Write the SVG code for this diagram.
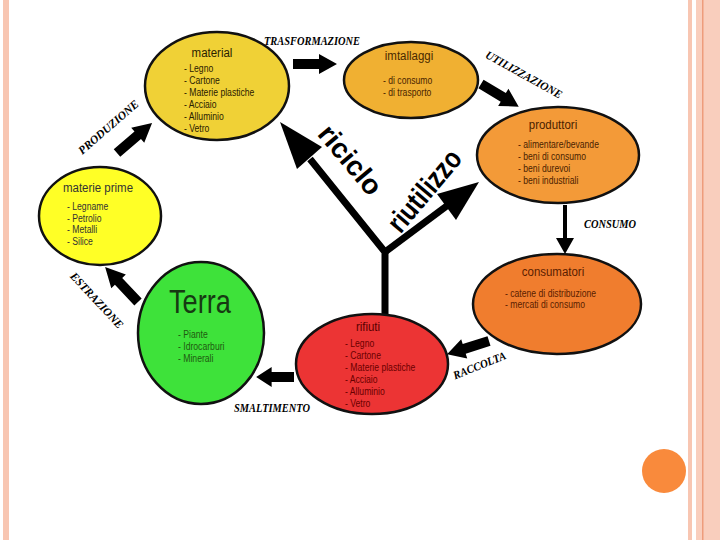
<svg xmlns="http://www.w3.org/2000/svg" xmlns:xlink="http://www.w3.org/1999/xlink" width="720" height="540" viewBox="0 0 720 540">
<style>
.node ellipse{stroke:#111;stroke-width:2.5}
.tt{font-family:"Liberation Sans",Arial,sans-serif;font-size:13.5px;text-anchor:middle}
.it{font-family:"Liberation Sans",Arial,sans-serif;font-size:11.5px}
.lbl{font-family:"Liberation Serif","Times New Roman",serif;font-weight:bold;font-style:italic;font-size:11.5px;fill:#000}
.big{font-family:"Liberation Sans",Arial,sans-serif;font-weight:bold;fill:#000}
.ba{fill:#000}
</style>
<defs>
<path id="barrow" d="M0,-5 L26,-5 L26,-10 L44,0 L26,10 L26,5 L0,5 Z"/>
</defs>
<rect width="720" height="540" fill="#fff"/>
<g id="page-decor">
<rect x="3" y="0" width="6" height="540" fill="#f8c6b2"/>
<rect x="688" y="0" width="4" height="540" fill="#f8c6b2"/>
<rect x="696" y="0" width="24" height="540" fill="#f9cebd"/>
<rect x="702" y="0" width="1.5" height="540" fill="#ee9c7c"/>
<circle cx="664" cy="471" r="22" fill="#f98a3c"/>
</g>
<g id="connectors">
<use href="#barrow" class="ba" transform="translate(293,64)"/>
<use href="#barrow" class="ba" transform="translate(481,84) rotate(31)"/>
<path class="ba" d="M563,205 L567,205 L567,238 L574,238 L565,254 L556,238 L563,238 Z"/>
<use href="#barrow" class="ba" transform="translate(489,341) rotate(162.4)"/>
<use href="#barrow" class="ba" transform="translate(294,377) rotate(180) scale(0.86,1)"/>
<use href="#barrow" class="ba" transform="translate(138,302) rotate(-133.3) scale(1.09,1)"/>
<use href="#barrow" class="ba" transform="translate(117,153) rotate(-40.6) scale(1.05,1)"/>
<g stroke="#000" stroke-width="7" fill="none" stroke-linejoin="miter">
<polyline points="385,318 385,252 310,159"/>
<line x1="385" y1="252" x2="448" y2="205"/>
</g>
<polygon class="ba" points="280,122 322,147 297,169"/>
<polygon class="ba" points="479,182 456,220 437,194"/>
<text class="lbl" x="312" y="45" text-anchor="middle" textLength="96" lengthAdjust="spacingAndGlyphs">TRASFORMAZIONE</text>
<text class="lbl" text-anchor="middle" transform="translate(522,78) rotate(29)" textLength="86" lengthAdjust="spacingAndGlyphs">UTILIZZAZIONE</text>
<text class="lbl" x="610" y="228" text-anchor="middle" textLength="52" lengthAdjust="spacingAndGlyphs">CONSUMO</text>
<text class="lbl" text-anchor="middle" transform="translate(481,369) rotate(-22)" textLength="56" lengthAdjust="spacingAndGlyphs">RACCOLTA</text>
<text class="lbl" x="272" y="412" text-anchor="middle" textLength="76" lengthAdjust="spacingAndGlyphs">SMALTIMENTO</text>
<text class="lbl" text-anchor="middle" transform="translate(94,303) rotate(47)" textLength="72" lengthAdjust="spacingAndGlyphs">ESTRAZIONE</text>
<text class="lbl" text-anchor="middle" transform="translate(111,130) rotate(-41)" textLength="76" lengthAdjust="spacingAndGlyphs">PRODUZIONE</text>
<text class="big" font-size="28" text-anchor="middle" transform="translate(343,166) rotate(50)">riciclo</text>
<text class="big" font-size="29" text-anchor="middle" transform="translate(432,197) rotate(-50)" textLength="98" lengthAdjust="spacingAndGlyphs">riutilizzo</text>
</g>
<g id="materiali" class="node">
<ellipse cx="217" cy="86" rx="72" ry="54" fill="#f0d136"/>
<text class="tt" x="212" y="57" fill="#2a2200" transform="matrix(0.85,0,0,1,31.8,0)">material</text>
<g class="it" fill="#2a2000" transform="matrix(0.75,0,0,1,46,0)">
<text x="184" y="72">- Legno</text>
<text x="184" y="84">- Cartone</text>
<text x="184" y="96">- Materie plastiche</text>
<text x="184" y="108">- Acciaio</text>
<text x="184" y="120">- Alluminio</text>
<text x="184" y="132">- Vetro</text>
</g>
</g>
<g id="imballaggi" class="node">
<ellipse cx="411" cy="80" rx="67" ry="38" fill="#f0b032"/>
<text class="tt" x="409" y="60" fill="#4a2a00" transform="matrix(0.85,0,0,1,61.35,0)">imtallaggi</text>
<g class="it" fill="#4a2400" transform="matrix(0.75,0,0,1,95.75,0)">
<text x="383" y="84">- di consumo</text>
<text x="383" y="96">- di trasporto</text>
</g>
</g>
<g id="produttori" class="node">
<ellipse cx="558" cy="155" rx="81" ry="48" fill="#f39a38"/>
<text class="tt" x="553" y="129" fill="#4a1e00" transform="matrix(0.85,0,0,1,82.95,0)">produttori</text>
<g class="it" fill="#4a1e00" transform="matrix(0.75,0,0,1,129.5,0)">
<text x="518" y="148">- alimentare/bevande</text>
<text x="518" y="160">- beni di consumo</text>
<text x="518" y="172">- beni durevoi</text>
<text x="518" y="184">- beni industriali</text>
</g>
</g>
<g id="consumatori" class="node">
<ellipse cx="557" cy="304" rx="84" ry="50" fill="#f07d2e"/>
<text class="tt" x="553" y="276" fill="#5a2000" transform="matrix(0.85,0,0,1,82.95,0)">consumatori</text>
<g class="it" fill="#5a1e00" transform="matrix(0.75,0,0,1,126.25,0)">
<text x="505" y="297">- catene di distribuzione</text>
<text x="505" y="308">- mercati di consumo</text>
</g>
</g>
<g id="rifiuti" class="node">
<ellipse cx="372" cy="364" rx="76" ry="50" fill="#ec3434"/>
<text class="tt" x="368" y="331" fill="#5a0000" transform="matrix(0.85,0,0,1,55.2,0)">rifiuti</text>
<g class="it" fill="#6a0000" transform="matrix(0.75,0,0,1,86.25,0)">
<text x="345" y="347">- Legno</text>
<text x="345" y="359">- Cartone</text>
<text x="345" y="371">- Materie plastiche</text>
<text x="345" y="383">- Acciaio</text>
<text x="345" y="395">- Alluminio</text>
<text x="345" y="407">- Vetro</text>
</g>
</g>
<g id="terra" class="node">
<ellipse cx="201" cy="333" rx="63" ry="71" fill="#3ee23a"/>
<text x="200" y="313" text-anchor="middle" font-family="Liberation Sans, Arial, sans-serif" font-size="34" fill="#163a12" transform="matrix(0.8,0,0,1,40,0)">Terra</text>
<g class="it" fill="#1e5a10" transform="matrix(0.75,0,0,1,44.5,0)">
<text x="178" y="338">- Piante</text>
<text x="178" y="350">- Idrocarburi</text>
<text x="178" y="362">- Minerali</text>
</g>
</g>
<g id="materie-prime" class="node">
<ellipse cx="100" cy="216" rx="61" ry="49" fill="#ffff26"/>
<text class="tt" x="98" y="192" fill="#333" transform="matrix(0.85,0,0,1,14.7,0)">materie prime</text>
<g class="it" fill="#333" transform="matrix(0.75,0,0,1,16.75,0)">
<text x="67" y="210">- Legname</text>
<text x="67" y="222">- Petrolio</text>
<text x="67" y="233">- Metalli</text>
<text x="67" y="245">- Silice</text>
</g>
</g>
</svg>
